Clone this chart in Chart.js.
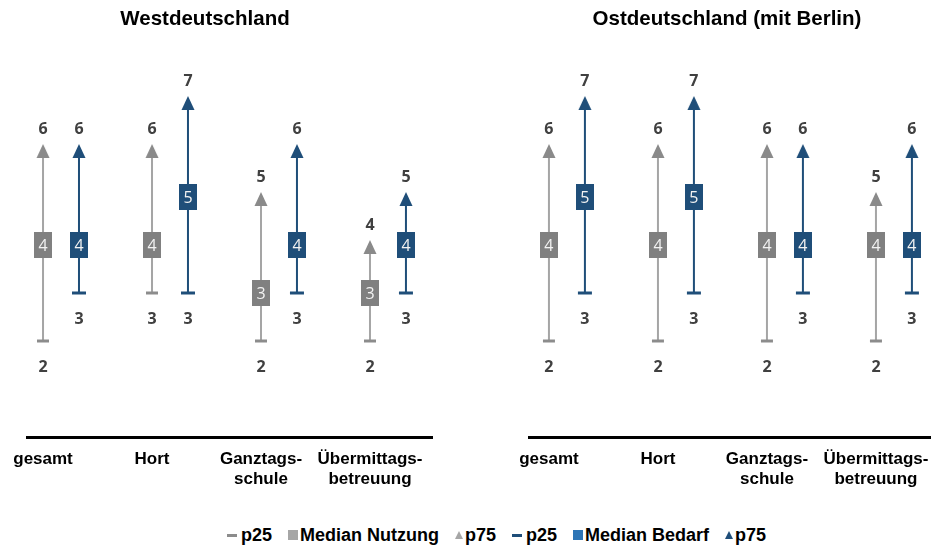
<!DOCTYPE html>
<html>
<head>
<meta charset="utf-8">
<title>Nutzung und Bedarf</title>
<script src="https://cdn.jsdelivr.net/npm/chart.js"></script>
<style>
  body { margin: 0; background: #fff; }
  #wrap { position: relative; width: 931px; height: 547px; overflow: hidden; }
  #westBox { position: absolute; left: 0; top: 0; width: 470px; height: 500px; }
  #ostBox { position: absolute; left: 470px; top: 0; width: 461px; height: 500px; }
  #legend {
    position: absolute; left: 227px; top: 525px; height: 20px;
    display: flex; align-items: center; white-space: nowrap;
    font: bold 18px "Liberation Sans", Arial, sans-serif; color: #000;
  }
  #legend .item { display: flex; align-items: center; margin-right: 16px; }
  #legend .dash { display: inline-block; width: 10px; height: 3px; margin-right: 4px; }
  #legend .sq { display: inline-block; width: 10px; height: 10px; margin-right: 2px; }
  #legend .tri { display: inline-block; width: 0; height: 0; margin-right: 2px;
    border-left: 4px solid transparent; border-right: 4px solid transparent; border-bottom: 8px solid; }
</style>
</head>
<body>
<div id="wrap">
  <div id="westBox"><canvas id="westChart"></canvas></div>
  <div id="ostBox"><canvas id="ostChart"></canvas></div>
  <div id="legend">
    <span class="item"><i class="dash" style="background:#8c8c8c"></i>p25</span>
    <span class="item"><i class="sq" style="background:#a6a6a6"></i>Median Nutzung</span>
    <span class="item"><i class="tri" style="border-bottom-color:#a6a6a6"></i>p75</span>
    <span class="item"><i class="dash" style="background:#1f4e79"></i>p25</span>
    <span class="item"><i class="sq" style="background:#2e75b6"></i>Median Bedarf</span>
    <span class="item"><i class="tri" style="border-bottom-color:#1f4e79"></i>p75</span>
  </div>
</div>
<script>
// categories (each entry = lines of the tick label)
const categories = [['gesamt'], ['Hort'], ['Ganztags-', 'schule'], ['Übermittags-', 'betreuung']];

// Westdeutschland
const westNutzungP25 = [2, 3, 2, 2];
const westNutzungMedian = [4, 4, 3, 3];
const westNutzungP75 = [6, 6, 5, 4];
const westBedarfP25 = [3, 3, 3, 3];
const westBedarfMedian = [4, 5, 4, 4];
const westBedarfP75 = [6, 7, 6, 5];

// Ostdeutschland (mit Berlin)
const ostNutzungP25 = [2, 2, 2, 2];
const ostNutzungMedian = [4, 4, 4, 4];
const ostNutzungP75 = [6, 6, 6, 5];
const ostBedarfP25 = [3, 3, 3, 3];
const ostBedarfMedian = [5, 5, 4, 4];
const ostBedarfP75 = [7, 7, 6, 6];

const GRAY = '#808080';
const GRAY_LINE = '#a5a5a5';
const BLUE = '#1f4e79';
const BLUE_SHIFT = 0.33; // blue series sits a bit right of the gray one

function markerImage(w, h, draw) {
    const c = document.createElement('canvas');
    c.width = w; c.height = h;
    draw(c.getContext('2d'));
    return c;
}
const rectGray = markerImage(18, 26, ctx => { ctx.fillStyle = GRAY; ctx.fillRect(0, 0, 18, 26); });
const rectBlue = markerImage(18, 26, ctx => { ctx.fillStyle = BLUE; ctx.fillRect(0, 0, 18, 26); });
function triangle(color) {
    return markerImage(14, 28, ctx => {
        ctx.fillStyle = color;
        ctx.beginPath();
        ctx.moveTo(7, 9); ctx.lineTo(13.5, 23); ctx.lineTo(0.5, 23);
        ctx.closePath(); ctx.fill();
    });
}
const triGray = triangle('#8a8a8a');
const triBlue = triangle(BLUE);

const pts = (values, shift) => values.map((v, i) => ({ x: i + shift, y: v }));
const rangePts = (lo, hi, shift) => lo.flatMap((v, i) => [
    { x: i + shift, y: v }, { x: i + shift, y: hi[i] }, { x: i + shift, y: null }
]);

function series(p25, median, p75, shift, lineColor, dashColor, rectImg, triImg, dashRadius) {
    return [
        { data: rangePts(p25, p75, shift), showLine: true, borderColor: lineColor, borderWidth: 2,
          pointRadius: 0, spanGaps: false, order: 5 },
        { data: pts(p25, shift), pointStyle: 'line', pointRadius: dashRadius, pointBorderWidth: 3,
          pointBorderColor: dashColor, labelPos: 'below', order: 1 },
        { data: pts(p75, shift), pointStyle: triImg, pointRadius: 5, labelPos: 'above', order: 1 },
        { data: pts(median, shift), pointStyle: rectImg, pointRadius: 5, labelPos: 'inside', order: 0 }
    ];
}

const valueLabels = {
    id: 'valueLabels',
    afterDatasetsDraw(chart) {
        const ctx = chart.ctx;
        chart.data.datasets.forEach((ds, di) => {
            if (!ds.labelPos) return;
            chart.getDatasetMeta(di).data.forEach((pt, i) => {
                const v = ds.data[i].y;
                ctx.save();
                ctx.textAlign = 'center';
                ctx.textBaseline = 'middle';
                if (ds.labelPos === 'inside') {
                    ctx.font = '16px "Open Sans"';
                    ctx.fillStyle = '#f2f2f2';
                    ctx.fillText(v, pt.x, pt.y + 1);
                } else {
                    ctx.font = 'bold 16px "Open Sans"';
                    ctx.fillStyle = '#404040';
                    ctx.fillText(v, pt.x, pt.y + (ds.labelPos === 'above' ? -20 : 26));
                }
                ctx.restore();
            });
        });
    }
};

const panelTitle = {
    id: 'panelTitle',
    afterDraw(chart, args, opts) {
        const ctx = chart.ctx;
        ctx.save();
        ctx.font = 'bold 20.5px "Liberation Sans", Arial, sans-serif';
        ctx.fillStyle = '#000';
        ctx.textAlign = 'center';
        ctx.textBaseline = 'middle';
        ctx.fillText(opts.text, opts.x, 19);
        ctx.restore();
    }
};

function makeChart(id, title, titleX, xMin, xMax, padLeft, padRight, d) {
    return new Chart(document.getElementById(id), {
        type: 'scatter',
        data: {
            datasets: [
                ...series(d[0], d[1], d[2], 0, GRAY_LINE, '#8c8c8c', rectGray, triGray, 6),
                ...series(d[3], d[4], d[5], BLUE_SHIFT, BLUE, BLUE, rectBlue, triBlue, 7)
            ]
        },
        options: {
            responsive: true,
            maintainAspectRatio: false,
            animation: false,
            events: [],
            clip: false,
            layout: { autoPadding: false, padding: { left: padLeft, right: padRight, top: 53, bottom: 3 } },
            plugins: {
                legend: { display: false },
                tooltip: { enabled: false },
                panelTitle: { text: title, x: titleX }
            },
            scales: {
                x: {
                    type: 'linear',
                    min: xMin,
                    max: xMax,
                    // grid hidden; tick length only pushes the labels down
                    grid: { display: false, drawTicks: true, tickLength: 13 },
                    border: { display: true, color: '#000', width: 3 },
                    afterBuildTicks: scale => { scale.ticks = categories.map((c, i) => ({ value: i })); },
                    afterFit: scale => {
                        scale.height = 60;
                        scale.paddingLeft = 0;
                        scale.paddingRight = 0;
                    },
                    ticks: {
                        autoSkip: false,
                        maxRotation: 0,
                        padding: 0,
                        color: '#000',
                        font: { family: '"Liberation Sans", Arial, sans-serif', size: 17, weight: 'bold', lineHeight: 1.15 },
                        callback: value => categories[value]
                    }
                },
                y: { display: false, min: 0, max: 8 }
            }
        },
        plugins: [valueLabels, panelTitle]
    });
}

const charts = [
    makeChart('westChart', 'Westdeutschland', 205, -0.147, 3.569, 27, 38,
        [westNutzungP25, westNutzungMedian, westNutzungP75, westBedarfP25, westBedarfMedian, westBedarfP75]),
    makeChart('ostChart', 'Ostdeutschland (mit Berlin)', 257, -0.183, 3.505, 59, 0,
        [ostNutzungP25, ostNutzungMedian, ostNutzungP75, ostBedarfP25, ostBedarfMedian, ostBedarfP75])
];

if (document.fonts) {
    document.fonts.load('bold 16px "Open Sans"').then(() => charts.forEach(c => c.update()));
}
</script>
</body>
</html>
